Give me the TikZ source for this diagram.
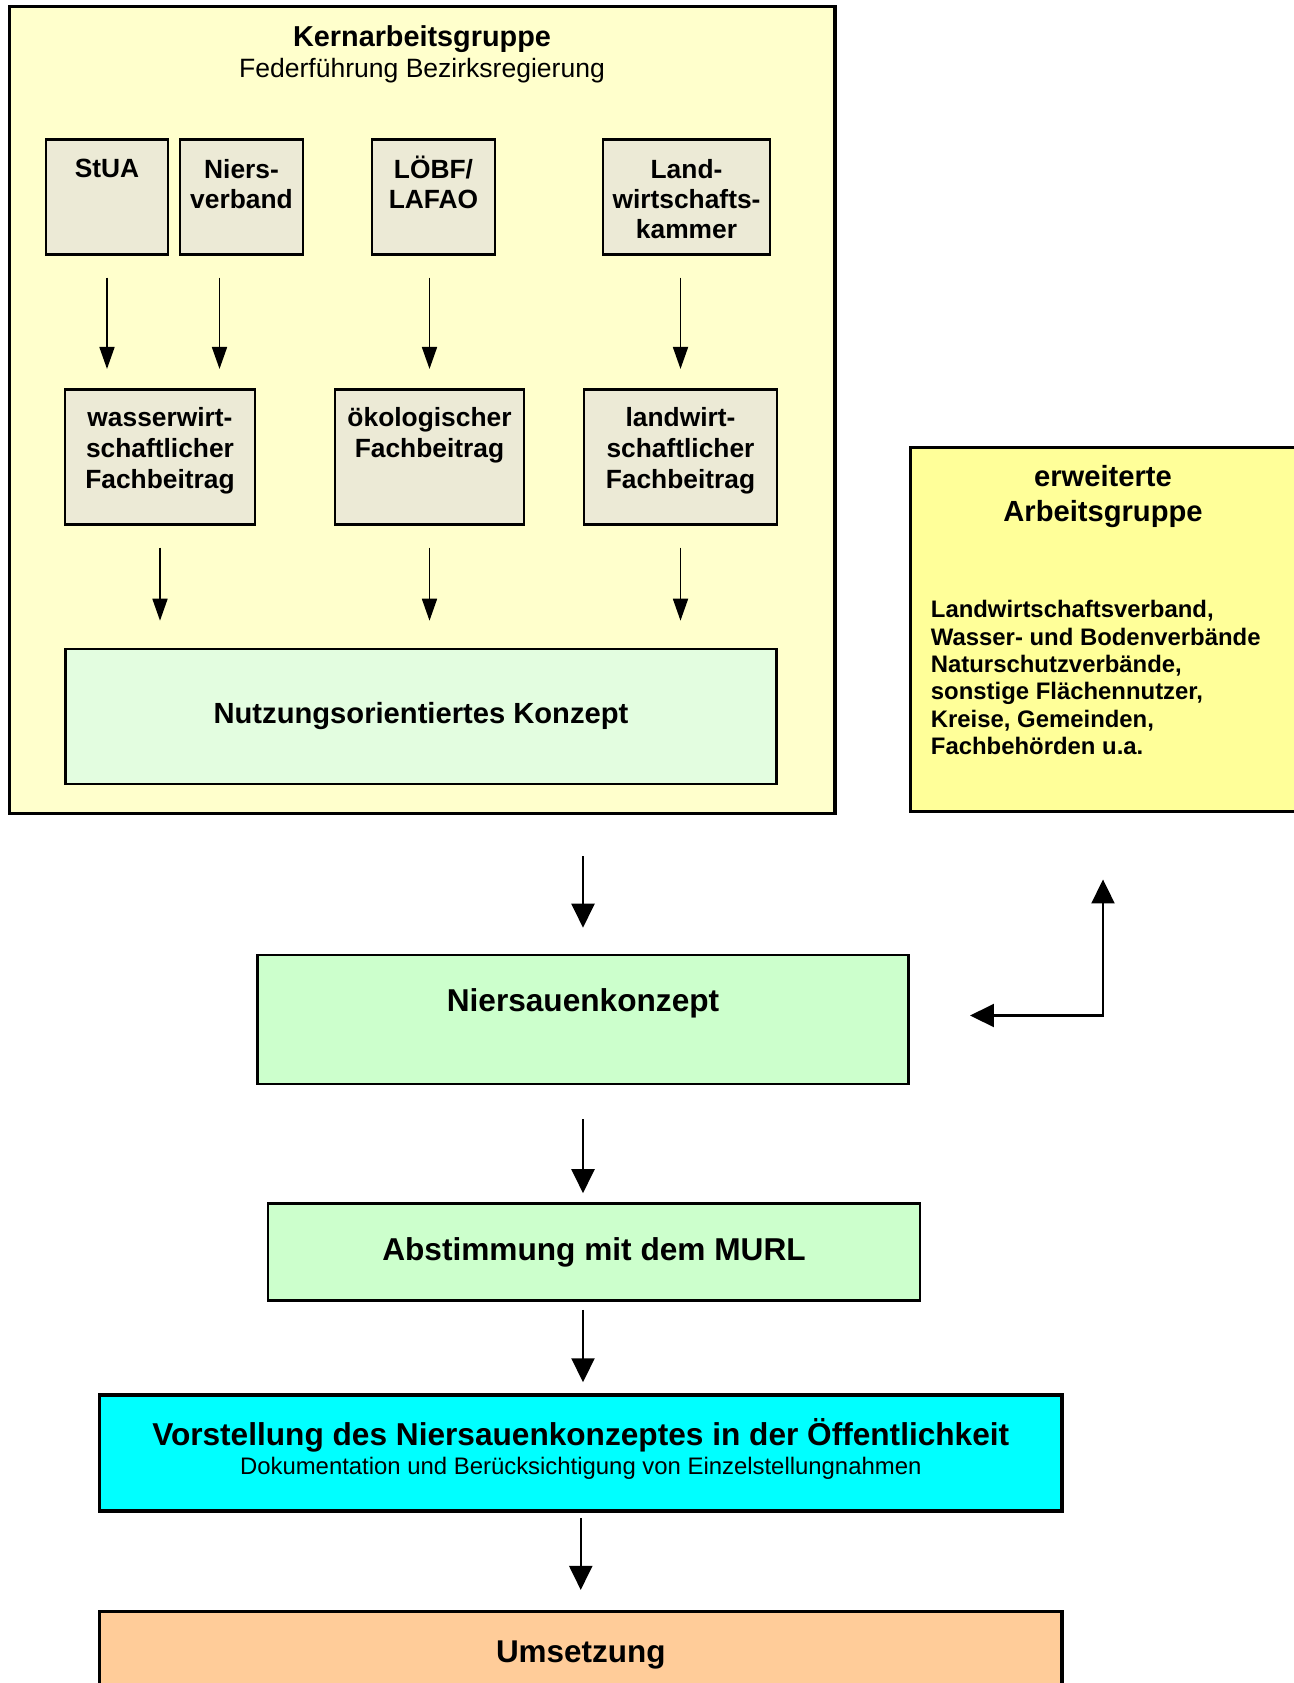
\documentclass[tikz,border=0pt]{standalone}
\usepackage{fontspec}
\setmainfont{Liberation Sans}
\usepackage{tikz}
\usetikzlibrary{arrows.meta}

\definecolor{kerngelb}{RGB}{255,255,204}
\definecolor{stellegrau}{RGB}{236,234,214}
\definecolor{konzeptgruen}{RGB}{227,253,224}
\definecolor{erwgelb}{RGB}{255,255,153}
\definecolor{hellgruen}{RGB}{204,255,204}
\definecolor{tuerkis}{RGB}{0,255,255}
\definecolor{umsorange}{RGB}{255,204,153}

\tikzset{
  gruppe/.style={draw, line width=1.8pt, fill=kerngelb},
  stelle/.style={draw, line width=1.2pt, fill=stellegrau},
  haupt/.style={draw, line width=1.5pt},
  kopf/.style={anchor=north, align=center, inner sep=0pt},
  stelletext/.style={kopf, yshift=-11.8pt, font=\fontsize{15pt}{17pt}\selectfont\bfseries},
  beitragtext/.style={kopf, yshift=-10.5pt, font=\fontsize{15pt}{17.7pt}\selectfont\bfseries},
  pfeil/.style={-{Triangle[length=0.44cm,width=0.3cm]}, line width=1pt},
  hauptpfeil/.style={-{Triangle[length=0.48cm,width=0.46cm]}, line width=1.2pt},
}

\begin{document}
\begin{tikzpicture}[x=0.02cm, y=-0.02cm]
  \path[use as bounding box, clip] (0,0) rectangle (1294,1683);

  % Kernarbeitsgruppe
  \node[gruppe, minimum width=16.52cm, minimum height=16.14cm,
        label={[kopf, yshift=-11.5pt, font=\fontsize{15.1pt}{17.8pt}\selectfont]north:{\fontsize{16.4pt}{17.8pt}\selectfont\bfseries Kernarbeitsgruppe}\\Federführung Bezirksregierung}] (kern) at (422,410) {};

  \node[stelle, minimum width=2.44cm, minimum height=2.3cm, label={[stelletext]north:StUA}] (stua) at (107,197) {};
  \node[stelle, minimum width=2.46cm, minimum height=2.3cm, label={[stelletext]north:Niers-\\verband}] (niers) at (241.5,197) {};
  \node[stelle, minimum width=2.46cm, minimum height=2.3cm, label={[stelletext, yshift=2pt]north:LÖBF/\\LAFAO}] (loebf) at (433.5,197) {};
  \node[stelle, minimum width=3.34cm, minimum height=2.3cm, label={[stelletext]north:Land-\\wirtschafts-\\kammer}] (lwk) at (686.5,197) {};

  \node[stelle, minimum width=3.8cm, minimum height=2.7cm, label={[beitragtext]north:wasserwirt-\\schaftlicher\\Fachbeitrag}] (wasser) at (160,457) {};
  \node[stelle, minimum width=3.78cm, minimum height=2.7cm, label={[beitragtext]north:ökologischer\\Fachbeitrag}] (oeko) at (429.5,457) {};
  \node[stelle, minimum width=3.86cm, minimum height=2.7cm, label={[beitragtext]north:landwirt-\\schaftlicher\\Fachbeitrag}] (landwirt) at (680.5,457) {};

  \node[draw, line width=1.5pt, fill=konzeptgruen, minimum width=14.22cm, minimum height=2.7cm,
        font=\fontsize{16.6pt}{19pt}\selectfont\bfseries] (nutz) at (421,716.5) {Nutzungsorientiertes Konzept};

  % erweiterte Arbeitsgruppe
  \node[draw, line width=1.7pt, fill=erwgelb, minimum width=7.72cm, minimum height=7.29cm,
        label={[kopf, yshift=-11pt, font=\fontsize{16.6pt}{19.5pt}\selectfont\bfseries]north:erweiterte\\Arbeitsgruppe}] (erw) at (1103,629.75) {};
  \node[anchor=north west, align=left, inner sep=0pt, font=\fontsize{13.6pt}{15.6pt}\selectfont\bfseries]
    (erwtext) at ([xshift=0.44cm, yshift=-3.08cm]erw.north west)
    {Landwirtschaftsverband,\\Wasser- und Bodenverbände\\Naturschutzverbände,\\sonstige Flächennutzer,\\Kreise, Gemeinden,\\Fachbehörden u.a.};

  % Ablauf
  \node[haupt, fill=hellgruen, minimum width=13.03cm, minimum height=2.58cm,
        label={[kopf, yshift=-19.5pt, font=\fontsize{18pt}{20pt}\selectfont\bfseries]north:Niersauenkonzept}] (niersauen) at (583,1019.5) {};
  \node[haupt, fill=hellgruen, minimum width=13.04cm, minimum height=1.94cm,
        font=\fontsize{18pt}{20pt}\selectfont\bfseries] (abst) at (594,1252) {Abstimmung mit dem MURL};
  \node[draw, line width=2pt, fill=tuerkis, minimum width=19.25cm, minimum height=2.32cm,
        label={[kopf, yshift=-14.4pt, font=\fontsize{13.6pt}{16.2pt}\selectfont]north:{\fontsize{18pt}{16.2pt}\selectfont\bfseries Vorstellung des Niersauenkonzeptes in der Öffentlichkeit}\\Dokumentation und Berücksichtigung von Einzelstellungnahmen}] (vorst) at (580.75,1453) {};
  \node[draw, line width=2pt, fill=umsorange, minimum width=19.25cm, minimum height=2.37cm,
        label={[kopf, yshift=-17.3pt, font=\fontsize{17.9pt}{20pt}\selectfont\bfseries]north:Umsetzung}] (ums) at (580.75,1670.9) {};

  % Pfeile
  \coordinate (niersfuss) at ([xshift=-0.44cm]niers.south);
  \coordinate (rueckweg) at ([yshift=0.08cm]niersauen.east);
  \draw[pfeil, shorten <=0.44cm, shorten >=0.39cm] (stua.south) -- (stua.south |- wasser.north);
  \draw[pfeil, shorten <=0.44cm, shorten >=0.39cm] (niersfuss) -- (niersfuss |- wasser.north);
  \draw[pfeil, shorten <=0.44cm, shorten >=0.39cm] (oeko |- loebf.south) -- (oeko.north);
  \draw[pfeil, shorten <=0.44cm, shorten >=0.39cm] (landwirt |- lwk.south) -- (landwirt.north);

  \draw[pfeil, shorten <=0.44cm, shorten >=0.54cm] (wasser.south) -- (wasser.south |- nutz.north);
  \draw[pfeil, shorten <=0.44cm, shorten >=0.54cm] (oeko.south) -- (oeko.south |- nutz.north);
  \draw[pfeil, shorten <=0.44cm, shorten >=0.54cm] (landwirt.south) -- (landwirt.south |- nutz.north);

  \draw[hauptpfeil, shorten <=0.82cm, shorten >=0.52cm] (niersauen |- kern.south) -- (niersauen.north);
  \draw[hauptpfeil, shorten <=0.68cm, shorten >=0.18cm] (niersauen.south) -- (niersauen.south |- abst.north);
  \draw[hauptpfeil, shorten <=0.16cm, shorten >=0.22cm] (niersauen.south |- abst.south) -- (niersauen.south |- vorst.north);
  \draw[hauptpfeil, shorten <=0.1cm, shorten >=0.4cm] (vorst.south) -- (vorst.south |- ums.north);
  \draw[hauptpfeil, {Triangle[length=0.48cm,width=0.46cm]}-{Triangle[length=0.48cm,width=0.46cm]},
        shorten <=1.32cm, shorten >=1.2cm] (erw.south) |- (rueckweg);
\end{tikzpicture}
\end{document}
